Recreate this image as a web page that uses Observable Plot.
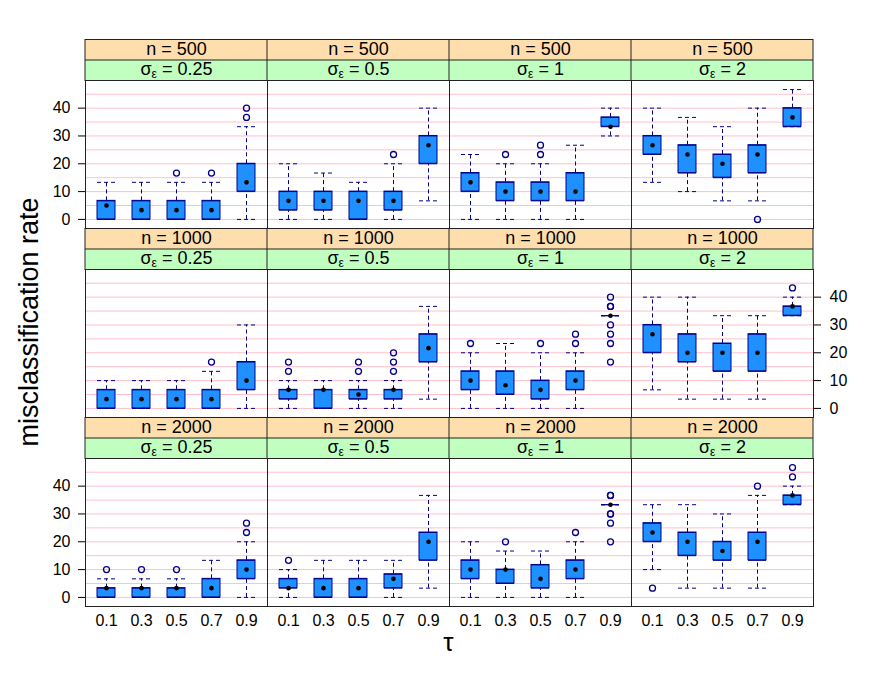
<!DOCTYPE html>
<html>
<head>
<meta charset="utf-8">
<script src="https://cdn.jsdelivr.net/npm/d3@7"></script>
<script src="https://cdn.jsdelivr.net/npm/@observablehq/plot@0.6"></script>
<style>
  html, body { margin: 0; padding: 0; background: white; }
  #root { position: relative; width: 872px; height: 678px; font-family: "Liberation Sans", Arial, sans-serif; }
  .row { position: absolute; left: 0; }
  #ylab { position: absolute; left: 29px; top: 322px; transform: translate(-50%, -50%) rotate(-90deg); font-size: 27px; white-space: nowrap; line-height: 27px; }
  #xlab { position: absolute; left: 84px; width: 729px; top: 629px; text-align: center; font-size: 26px; line-height: 26px; }
</style>
</head>
<body>
<div id="root">
  <div id="ylab">misclassification rate</div>
  <div id="xlab">τ</div>
</div>
<script>
// ---- categories ----
const taus = ["0.1", "0.3", "0.5", "0.7", "0.9"];
const sigmas = ["0.25", "0.5", "1", "2"];
const ns = ["500", "1000", "2000"];
const yTicks = [0, 10, 20, 30, 40];
const gridVals = [0, 5, 10, 15, 20, 25, 30, 35, 40, 45];

// ---- box statistics (percent), one row per panel: n=500 (σ 0.25,0.5,1,2), n=1000 (...), n=2000 (...) ----
const lowerWhisker = [
  [0, 0, 0, 0, 0],
  [0, 0, 0, 0, 6.67],
  [0, 0, 0, 0, 30],
  [13.33, 10, 6.67, 6.67, 33.33],
  [0, 0, 0, 0, 0],
  [0, 0, 0, 0, 3.33],
  [0, 0, 0, 0, 33.33],
  [6.67, 3.33, 3.33, 3.33, 33.33],
  [0, 0, 0, 0, 0],
  [0, 0, 0, 0, 3.33],
  [0, 0, 0, 0, 33.33],
  [10, 3.33, 3.33, 3.33, 33.33]
];
const lowerHinge = [
  [0, 0, 0, 0, 10],
  [3.33, 3.33, 0, 3.33, 20],
  [10, 6.67, 6.67, 6.67, 33.33],
  [23.33, 16.67, 15, 16.67, 33.33],
  [0, 0, 0, 0, 6.67],
  [3.33, 0, 3.33, 3.33, 16.67],
  [6.67, 5, 3.33, 6.67, 33.33],
  [20, 16.67, 13.33, 13.33, 33.33],
  [0, 0, 0, 0, 6.67],
  [3.33, 0, 0, 3.33, 13.33],
  [6.67, 5, 3.33, 6.67, 33.33],
  [20, 15, 13.33, 13.33, 33.33]
];
const medians = [
  [5, 3.33, 3.33, 3.33, 13.33],
  [6.67, 6.67, 6.67, 6.67, 26.67],
  [13.33, 10, 10, 10, 33.33],
  [26.67, 23.33, 20, 23.33, 36.67],
  [3.33, 3.33, 3.33, 3.33, 10],
  [6.67, 6.67, 5, 6.67, 21.67],
  [10, 8.33, 6.67, 10, 33.33],
  [26.67, 20, 20, 20, 36.67],
  [3.33, 3.33, 3.33, 3.33, 10],
  [3.33, 3.33, 3.33, 6.67, 20],
  [10, 10, 6.67, 10, 33.33],
  [23.33, 20, 16.67, 20, 36.67]
];
const upperHinge = [
  [6.67, 6.67, 6.67, 6.67, 20],
  [10, 10, 10, 10, 30],
  [16.67, 13.33, 13.33, 16.67, 36.67],
  [30, 26.67, 23.33, 26.67, 40],
  [6.67, 6.67, 6.67, 6.67, 16.67],
  [6.67, 6.67, 6.67, 6.67, 26.67],
  [13.33, 13.33, 10, 13.33, 33.33],
  [30, 26.67, 23.33, 26.67, 36.67],
  [3.33, 3.33, 3.33, 6.67, 13.33],
  [6.67, 6.67, 6.67, 8.33, 23.33],
  [13.33, 10, 11.67, 13.33, 33.33],
  [26.67, 23.33, 20, 23.33, 36.67]
];
const upperWhisker = [
  [13.33, 13.33, 13.33, 13.33, 33.33],
  [20, 16.67, 13.33, 20, 40],
  [23.33, 20, 20, 26.67, 40],
  [40, 36.67, 33.33, 40, 46.67],
  [10, 10, 10, 13.33, 30],
  [10, 10, 10, 10, 36.67],
  [20, 23.33, 20, 20, 33.33],
  [40, 40, 33.33, 33.33, 40],
  [6.67, 6.67, 6.67, 13.33, 20],
  [10, 13.33, 13.33, 13.33, 36.67],
  [20, 16.67, 16.67, 20, 33.33],
  [33.33, 33.33, 30, 36.67, 40]
];
// outliers: [n, σ, τ, value]
const outliers = [
  ["500", "0.25", "0.5", 16.67], ["500", "0.25", "0.7", 16.67], ["500", "0.25", "0.9", 36.67], ["500", "0.25", "0.9", 40],
  ["500", "0.5", "0.7", 23.33],
  ["500", "1", "0.3", 23.33], ["500", "1", "0.5", 23.33], ["500", "1", "0.5", 26.67],
  ["500", "2", "0.7", 0],
  ["1000", "0.25", "0.7", 16.67],
  ["1000", "0.5", "0.1", 13.33], ["1000", "0.5", "0.1", 16.67], ["1000", "0.5", "0.5", 13.33], ["1000", "0.5", "0.5", 16.67],
  ["1000", "0.5", "0.7", 13.33], ["1000", "0.5", "0.7", 16.67], ["1000", "0.5", "0.7", 20],
  ["1000", "1", "0.1", 23.33], ["1000", "1", "0.5", 23.33], ["1000", "1", "0.7", 23.33], ["1000", "1", "0.7", 26.67],
  ["1000", "1", "0.9", 16.67], ["1000", "1", "0.9", 23.33], ["1000", "1", "0.9", 26.67], ["1000", "1", "0.9", 30],
  ["1000", "1", "0.9", 36.67], ["1000", "1", "0.9", 36.67], ["1000", "1", "0.9", 40],
  ["1000", "2", "0.9", 43.33],
  ["2000", "0.25", "0.1", 10], ["2000", "0.25", "0.3", 10], ["2000", "0.25", "0.5", 10],
  ["2000", "0.25", "0.9", 23.33], ["2000", "0.25", "0.9", 26.67],
  ["2000", "0.5", "0.1", 13.33],
  ["2000", "1", "0.3", 20], ["2000", "1", "0.7", 23.33],
  ["2000", "1", "0.9", 20], ["2000", "1", "0.9", 26.67], ["2000", "1", "0.9", 30], ["2000", "1", "0.9", 30],
  ["2000", "1", "0.9", 36.67], ["2000", "1", "0.9", 36.67],
  ["2000", "2", "0.1", 3.33], ["2000", "2", "0.7", 40], ["2000", "2", "0.9", 43.33], ["2000", "2", "0.9", 46.67]
];

// ---- build tables ----
const table = [];
ns.forEach((n, ni) => sigmas.forEach((s, si) => taus.forEach((t, ti) => {
  const p = ni * 4 + si;
  table.push({n, sigma: s, tau: t,
    lo: lowerWhisker[p][ti], q1: lowerHinge[p][ti], med: medians[p][ti],
    q3: upperHinge[p][ti], hi: upperWhisker[p][ti]});
})));
const outlierTable = outliers.map(([n, sigma, tau, value]) => ({n, sigma, tau, value}));

// lattice-style 7% axis padding
const allVals = [...lowerWhisker.flat(), ...upperWhisker.flat(), ...outlierTable.map(d => d.value)];
const [vmin, vmax] = d3.extent(allVals);
const pad = 0.07 * (vmax - vmin);
const yDomain = [vmin - pad, vmax + pad];
const yTop = yDomain[1];

const boxFill = "#1E90FF";
const dark = "#00008B";
const stripOrange = "#FFDEAD";
const stripGreen = "#C1FFC1";
const font = "Liberation Sans, Arial, Helvetica, sans-serif";

function rowPlot(n, ri) {
  const rows = table.filter(d => d.n === n);
  const outs = outlierTable.filter(d => d.n === n);
  const last = ri === ns.length - 1;
  const anchor = ri === 1 ? "right" : "left";
  const marks = [
    Plot.ruleY(gridVals, {stroke: "#FFC0CB", strokeWidth: 1}),
    Plot.ruleX(rows, {x: "tau", y1: "lo", y2: "q1", fx: "sigma", stroke: dark, strokeDasharray: "4,3"}),
    Plot.ruleX(rows, {x: "tau", y1: "q3", y2: "hi", fx: "sigma", stroke: dark, strokeDasharray: "4,3"}),
    Plot.tickY(rows, {x: "tau", y: "lo", fx: "sigma", stroke: dark, strokeDasharray: "4,3"}),
    Plot.tickY(rows, {x: "tau", y: "hi", fx: "sigma", stroke: dark, strokeDasharray: "4,3"}),
    Plot.barY(rows, {x: "tau", y1: "q1", y2: "q3", fx: "sigma", fill: boxFill, stroke: dark, strokeWidth: 1}),
    Plot.tickY(rows, {x: "tau", y: "q1", fx: "sigma", stroke: dark}),
    Plot.tickY(rows, {x: "tau", y: "q3", fx: "sigma", stroke: dark}),
    Plot.dot(rows, {x: "tau", y: "med", fx: "sigma", r: 2.3, fill: "black", stroke: "none"}),
    Plot.dot(outs, {x: "tau", y: "value", fx: "sigma", r: 3, fill: "none", stroke: dark, strokeWidth: 1.3}),
    Plot.frame({stroke: "#222", strokeWidth: 1}),
    // strips
    Plot.tickY([yTop], {y: d => d, stroke: "#222", strokeWidth: 42, dy: -20.5, insetLeft: -0.5, insetRight: -0.5}),
    Plot.tickY([yTop], {y: d => d, stroke: stripOrange, strokeWidth: 19.5, dy: -30.75, insetLeft: 0.5, insetRight: 0.5}),
    Plot.tickY([yTop], {y: d => d, stroke: stripGreen, strokeWidth: 19.5, dy: -10.25, insetLeft: 0.5, insetRight: 0.5}),
    Plot.text(sigmas, {fx: d => d, text: () => "n = " + n, frameAnchor: "top", lineAnchor: "middle", dy: -31, fontSize: 18, fill: "black"}),
    Plot.text(sigmas, {fx: d => d, text: d => "σε = " + d, frameAnchor: "top", lineAnchor: "middle", dy: -11, fontSize: 18, fill: "black"}),
    Plot.axisY(yTicks, {anchor, tickSize: 7, tickPadding: anchor === "left" ? 8 : 9, label: null, fontSize: 16})
  ];
  if (last) marks.push(Plot.axisX({anchor: "bottom", tickSize: 0, tickPadding: 8, label: null, fontSize: 16}));
  const svg = Plot.plot({
    width: 872,
    height: last ? 42 + 148 + 45 : 42 + 148 + 1,
    marginLeft: 84, marginRight: 59, marginTop: 42, marginBottom: last ? 45 : 1,
    style: {background: "transparent", fontFamily: font, fontSize: "16px", color: "black", overflow: "visible"},
    fx: {domain: sigmas, padding: 0, axis: null, label: null},
    x: {type: "band", domain: taus, paddingInner: 0.5, paddingOuter: 0.35, axis: null, label: null},
    y: {domain: yDomain, axis: null, label: null},
    marks
  });
  // subscript ε in σε strip labels
  d3.select(svg).selectAll("text").each(function () {
    const s = this.textContent;
    if (!s.startsWith("σε")) return;
    const v = s.split("=")[1].trim();
    const t = d3.select(this);
    t.text(null);
    t.append("tspan").text("σ");
    t.append("tspan").attr("font-size", "12").attr("dy", "3").text("ε");
    t.append("tspan").attr("dy", "-3").text(" = " + v);
  });
  return svg;
}

const root = document.getElementById("root");
ns.forEach((n, ri) => {
  const div = document.createElement("div");
  div.className = "row";
  div.style.top = (38 + 189 * ri) + "px";
  div.appendChild(rowPlot(n, ri));
  root.appendChild(div);
});
</script>
</body>
</html>
